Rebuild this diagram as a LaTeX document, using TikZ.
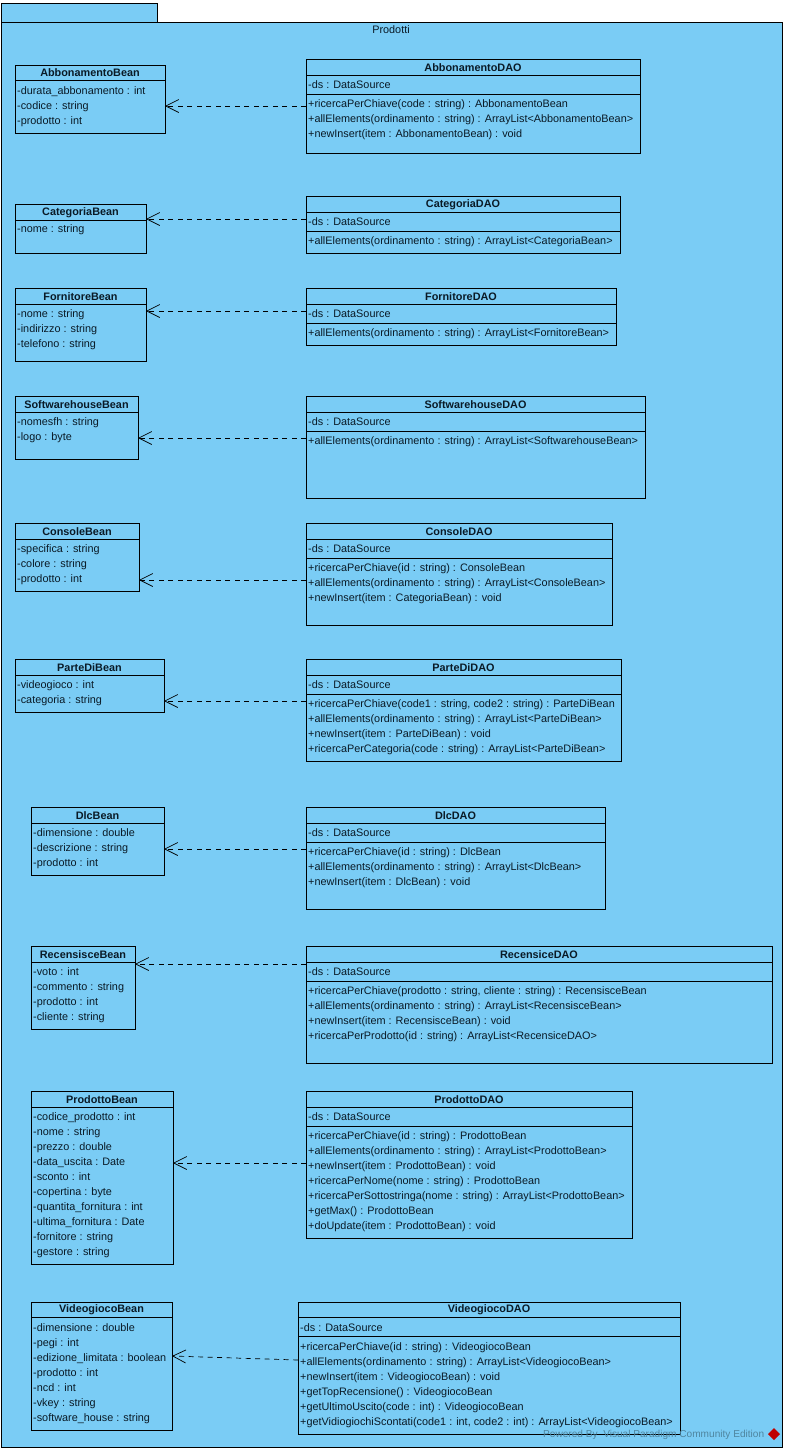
\documentclass[tikz,border=0pt]{standalone}
\usepackage{fontspec}
\setmainfont{Liberation Sans}
\usetikzlibrary{arrows.meta}
\definecolor{pkgfill}{HTML}{7ACCF5}
\definecolor{ink}{HTML}{0A1A26}
\tikzset{
  pkg/.style={draw=black,fill=pkgfill,line width=0.9pt},
  classbox/.style={draw=black,line width=0.9pt,inner sep=0pt,outer sep=0pt},
  seprule/.style={draw=black,line width=0.9pt},
  classtitle/.style={font=\fontsize{10.85}{15}\selectfont\bfseries,text=ink,inner sep=0pt,anchor=center,yshift=-0.6pt},
  members/.style={font=\fontsize{10.85}{15}\selectfont,text=ink,inner sep=0pt,anchor=north west,align=left,yshift=-3.2pt},
  dep/.style={draw=black,line width=0.7pt,dash pattern=on 5pt off 4.5pt,-{Straight Barb[length=13pt,width=13pt,line width=0.7pt]}},
}
\newcommand\umlclass[7]{%
  \node[classbox,minimum width={(#4-#2)*1pt},minimum height={(#5-#3)*1pt}] (#1) at ({(#2+#4)/2},{(#3+#5)/2}) {};
  \draw[seprule] (#1.west |- 0,#6) -- (#1.east |- 0,#6);
  \node[classtitle] (#1t) at ({(#2+#4)/2},{(#3+#6)/2}) {#7};
}
\begin{document}
\begin{tikzpicture}[x=1pt,y=-1pt]
\useasboundingbox (0,0) rectangle (786,1452);
\draw[pkg] (1,3) rectangle (157,22);
\draw[pkg] (1,22) rectangle (782,1447);
\node[font=\fontsize{10.85}{15}\selectfont,text=ink,inner sep=0pt] (pkgname) at (391,30) {Prodotti};

% ---- Abbonamento
\umlclass{ab}{15}{65}{165}{133}{80}{AbbonamentoBean}
\node[members] (abm) at ([xshift=2pt]ab.west |- 0,83) {-durata\_abbonamento : int\\-codice : string\\-prodotto : int};
\umlclass{ad}{306}{59}{640}{153}{75}{AbbonamentoDAO}
\draw[seprule] (ad.west |- 0,94) -- (ad.east |- 0,94);
\node[members] (adf) at ([xshift=2pt]ad.west |- 0,77) {-ds : DataSource};
\node[members] (adm) at ([xshift=2pt]ad.west |- 0,96) {+ricercaPerChiave(code : string) : AbbonamentoBean\\+allElements(ordinamento : string) : ArrayList<AbbonamentoBean>\\+newInsert(item : AbbonamentoBean) : void};
\draw[dep] (ad.west |- 0,106) -- (ab.east |- 0,106);

% ---- Categoria
\umlclass{cb}{15}{204}{146}{253}{220}{CategoriaBean}
\node[members] (cbm) at ([xshift=2pt]cb.west |- 0,221) {-nome : string};
\umlclass{cd}{306}{196}{620}{253}{212}{CategoriaDAO}
\draw[seprule] (cd.west |- 0,231) -- (cd.east |- 0,231);
\node[members] (cdf) at ([xshift=2pt]cd.west |- 0,214) {-ds : DataSource};
\node[members] (cdm) at ([xshift=2pt]cd.west |- 0,233) {+allElements(ordinamento : string) : ArrayList<CategoriaBean>};
\draw[dep] (cd.west |- 0,219) -- (cb.east |- 0,219);

% ---- Fornitore
\umlclass{fb}{15}{288}{146}{361}{304}{FornitoreBean}
\node[members] (fbm) at ([xshift=2pt]fb.west |- 0,306) {-nome : string\\-indirizzo : string\\-telefono : string};
\umlclass{fd}{306}{288}{616}{345}{304}{FornitoreDAO}
\draw[seprule] (fd.west |- 0,323) -- (fd.east |- 0,323);
\node[members] (fdf) at ([xshift=2pt]fd.west |- 0,306) {-ds : DataSource};
\node[members] (fdm) at ([xshift=2pt]fd.west |- 0,325) {+allElements(ordinamento : string) : ArrayList<FornitoreBean>};
\draw[dep] (fd.west |- 0,311) -- (fb.east |- 0,311);

% ---- Softwarehouse
\umlclass{sb}{15}{396}{138}{459}{412}{SoftwarehouseBean}
\node[members] (sbm) at ([xshift=2pt]sb.west |- 0,414) {-nomesfh : string\\-logo : byte};
\umlclass{sd}{306}{396}{645}{498}{412}{SoftwarehouseDAO}
\draw[seprule] (sd.west |- 0,431) -- (sd.east |- 0,431);
\node[members] (sdf) at ([xshift=2pt]sd.west |- 0,414) {-ds : DataSource};
\node[members] (sdm) at ([xshift=2pt]sd.west |- 0,433) {+allElements(ordinamento : string) : ArrayList<SoftwarehouseBean>};
\draw[dep] (sd.west |- 0,438) -- (sb.east |- 0,438);

% ---- Console
\umlclass{kb}{15}{523}{139}{591}{539}{ConsoleBean}
\node[members] (kbm) at ([xshift=2pt]kb.west |- 0,541) {-specifica : string\\-colore : string\\-prodotto : int};
\umlclass{kd}{306}{523}{612}{625}{539}{ConsoleDAO}
\draw[seprule] (kd.west |- 0,558) -- (kd.east |- 0,558);
\node[members] (kdf) at ([xshift=2pt]kd.west |- 0,541) {-ds : DataSource};
\node[members] (kdm) at ([xshift=2pt]kd.west |- 0,560) {+ricercaPerChiave(id : string) : ConsoleBean\\+allElements(ordinamento : string) : ArrayList<ConsoleBean>\\+newInsert(item : CategoriaBean) : void};
\draw[dep] (kd.west |- 0,580) -- (kb.east |- 0,580);

% ---- ParteDi
\umlclass{pb}{15}{659}{164}{712}{675}{ParteDiBean}
\node[members] (pbm) at ([xshift=2pt]pb.west |- 0,677) {-videogioco : int\\-categoria : string};
\umlclass{pd}{306}{659}{621}{761}{675}{ParteDiDAO}
\draw[seprule] (pd.west |- 0,694) -- (pd.east |- 0,694);
\node[members] (pdf) at ([xshift=2pt]pd.west |- 0,677) {-ds : DataSource};
\node[members] (pdm) at ([xshift=2pt]pd.west |- 0,696) {+ricercaPerChiave(code1 : string, code2 : string) : ParteDiBean\\+allElements(ordinamento : string) : ArrayList<ParteDiBean>\\+newInsert(item : ParteDiBean) : void\\+ricercaPerCategoria(code : string) : ArrayList<ParteDiBean>};
\draw[dep] (pd.west |- 0,701) -- (pb.east |- 0,701);

% ---- Dlc
\umlclass{db}{31}{807}{164}{875}{823}{DlcBean}
\node[members] (dbm) at ([xshift=2pt]db.west |- 0,825) {-dimensione : double\\-descrizione : string\\-prodotto : int};
\umlclass{dd}{306}{807}{605}{909}{823}{DlcDAO}
\draw[seprule] (dd.west |- 0,842) -- (dd.east |- 0,842);
\node[members] (ddf) at ([xshift=2pt]dd.west |- 0,825) {-ds : DataSource};
\node[members] (ddm) at ([xshift=2pt]dd.west |- 0,844) {+ricercaPerChiave(id : string) : DlcBean\\+allElements(ordinamento : string) : ArrayList<DlcBean>\\+newInsert(item : DlcBean) : void};
\draw[dep] (dd.west |- 0,849) -- (db.east |- 0,849);

% ---- Recensisce
\umlclass{rb}{31}{946}{135}{1029}{962}{RecensisceBean}
\node[members] (rbm) at ([xshift=2pt]rb.west |- 0,964) {-voto : int\\-commento : string\\-prodotto : int\\-cliente : string};
\umlclass{rd}{306}{946}{772}{1063}{962}{RecensiceDAO}
\draw[seprule] (rd.west |- 0,981) -- (rd.east |- 0,981);
\node[members] (rdf) at ([xshift=2pt]rd.west |- 0,964) {-ds : DataSource};
\node[members] (rdm) at ([xshift=2pt]rd.west |- 0,983) {+ricercaPerChiave(prodotto : string, cliente : string) : RecensisceBean\\+allElements(ordinamento : string) : ArrayList<RecensisceBean>\\+newInsert(item : RecensisceBean) : void\\+ricercaPerProdotto(id : string) : ArrayList<RecensiceDAO>};
\draw[dep] (rd.west |- 0,964) -- (rb.east |- 0,964);

% ---- Prodotto
\umlclass{ob}{31}{1091}{173}{1264}{1107}{ProdottoBean}
\node[members] (obm) at ([xshift=2pt]ob.west |- 0,1109) {-codice\_prodotto : int\\-nome : string\\-prezzo : double\\-data\_uscita : Date\\-sconto : int\\-copertina : byte\\-quantita\_fornitura : int\\-ultima\_fornitura : Date\\-fornitore : string\\-gestore : string};
\umlclass{od}{306}{1091}{632}{1238}{1107}{ProdottoDAO}
\draw[seprule] (od.west |- 0,1126) -- (od.east |- 0,1126);
\node[members] (odf) at ([xshift=2pt]od.west |- 0,1109) {-ds : DataSource};
\node[members] (odm) at ([xshift=2pt]od.west |- 0,1128) {+ricercaPerChiave(id : string) : ProdottoBean\\+allElements(ordinamento : string) : ArrayList<ProdottoBean>\\+newInsert(item : ProdottoBean) : void\\+ricercaPerNome(nome : string) : ProdottoBean\\+ricercaPerSottostringa(nome : string) : ArrayList<ProdottoBean>\\+getMax() : ProdottoBean\\+doUpdate(item : ProdottoBean) : void};
\draw[dep] (od.west |- 0,1163) -- (ob.east |- 0,1163);

% ---- Videogioco
\umlclass{vb}{31}{1302}{172}{1430}{1317}{VideogiocoBean}
\node[members] (vbm) at ([xshift=2pt]vb.west |- 0,1320) {-dimensione : double\\-pegi : int\\-edizione\_limitata : boolean\\-prodotto : int\\-ncd : int\\-vkey : string\\-software\_house : string};
\umlclass{vd}{298}{1302}{680}{1434}{1317}{VideogiocoDAO}
\draw[seprule] (vd.west |- 0,1336) -- (vd.east |- 0,1336);
\node[members] (vdf) at ([xshift=2pt]vd.west |- 0,1320) {-ds : DataSource};
\node[members] (vdm) at ([xshift=2pt]vd.west |- 0,1339) {+ricercaPerChiave(id : string) : VideogiocoBean\\+allElements(ordinamento : string) : ArrayList<VideogiocoBean>\\+newInsert(item : VideogiocoBean) : void\\+getTopRecensione() : VideogiocoBean\\+getUltimoUscito(code : int) : VideogiocoBean\\+getVidiogiochiScontati(code1 : int, code2 : int) : ArrayList<VideogiocoBean>};
\draw[dep] (vd.west |- 0,1360) -- (vb.east |- 0,1356);

% ---- watermark
\node[font=\fontsize{10.1}{12}\selectfont,text=black!35!pkgfill,inner sep=0pt,anchor=west] (wm) at (543,1435) {Powered By \ Visual Paradigm Community Edition};
\fill[red!75!black] (774,1428) -- (780,1434) -- (774,1440) -- (768,1434) -- cycle;
\end{tikzpicture}
\end{document}
